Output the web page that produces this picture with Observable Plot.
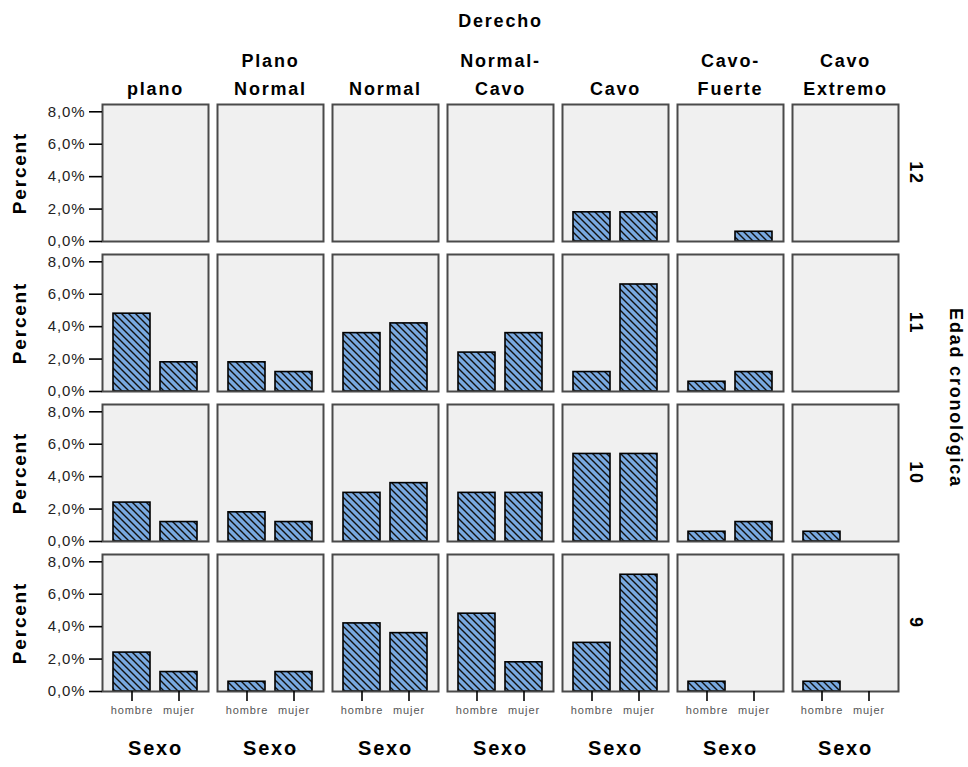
<!DOCTYPE html>
<html>
<head>
<meta charset="utf-8">
<script src="https://cdn.jsdelivr.net/npm/d3@7"></script>
<script src="https://cdn.jsdelivr.net/npm/@observablehq/plot@0.6"></script>
<style>
  html, body { margin: 0; padding: 0; background: white; }
  svg text { letter-spacing: 0.9px; }
  g[font-weight="bold"] text { letter-spacing: 1.8px; }
</style>
</head>
<body>
<div id="chart"></div>
<script>
const derecho = ["plano", "Plano Normal", "Normal", "Normal-Cavo", "Cavo", "Cavo-Fuerte", "Cavo Extremo"];
const columnLabels = ["plano", "Plano\nNormal", "Normal", "Normal-\nCavo", "Cavo", "Cavo-\nFuerte", "Cavo\nExtremo"];
const edades = [12, 11, 10, 9];
const sexos = ["hombre", "mujer"];
const yTicks = [0, 2, 4, 6, 8];

// percent values, one entry per Derecho category
const hombre12 = [0, 0, 0, 0, 1.8, 0, 0];
const mujer12  = [0, 0, 0, 0, 1.8, 0.6, 0];
const hombre11 = [4.8, 1.8, 3.6, 2.4, 1.2, 0.6, 0];
const mujer11  = [1.8, 1.2, 4.2, 3.6, 6.6, 1.2, 0];
const hombre10 = [2.4, 1.8, 3.0, 3.0, 5.4, 0.6, 0.6];
const mujer10  = [1.2, 1.2, 3.6, 3.0, 5.4, 1.2, 0];
const hombre9  = [2.4, 0.6, 4.2, 4.8, 3.0, 0.6, 0.6];
const mujer9   = [1.2, 1.2, 3.6, 1.8, 7.2, 0, 0];

const series = {
  12: {hombre: hombre12, mujer: mujer12},
  11: {hombre: hombre11, mujer: mujer11},
  10: {hombre: hombre10, mujer: mujer10},
  9:  {hombre: hombre9,  mujer: mujer9}
};
const data = [];
for (const e of edades) for (const s of sexos) derecho.forEach((d, i) => {
  data.push({edad: e, sexo: s, derecho: d, value: series[e][s][i]});
});

const fmt = d => d.toFixed(1).replace(".", ",") + "%";
const bold = {fontWeight: "bold", fill: "black"};

const chart = Plot.plot({
  width: 968,
  height: 767,
  marginLeft: 101,
  marginRight: 70,
  marginTop: 103,
  marginBottom: 74,
  style: {fontFamily: "'Liberation Sans', Arial, sans-serif", background: "white", color: "black"},
  fx: {domain: derecho, paddingInner: 0.08, paddingOuter: 0},
  fy: {domain: edades, paddingInner: 0.086, paddingOuter: 0, axis: null},
  x: {domain: sexos, padding: 0.22},
  y: {domain: [0, 8.45]},
  marks: [
    Plot.frame({fill: "#f0f0f0", stroke: null}),
    Plot.dot(data, {fx: "derecho", fy: "edad", x: "sexo", y: 0, r: 0}),
    Plot.barY(data, {filter: d => d.value > 0, fx: "derecho", fy: "edad", x: "sexo", y: "value",
      fill: "url(#hatch)", stroke: "black", strokeWidth: 1.6}),
    Plot.frame({stroke: "#4a4a4a", strokeWidth: 2}),
    Plot.axisY({ticks: yTicks, tickFormat: fmt, tickSize: 13, tickPadding: 4, fontSize: 15, label: null, fill: "#222", stroke: "black", strokeWidth: 1.6}),
    Plot.axisX({tickSize: 10, tickPadding: 5, fontSize: 11, label: null, fill: "#555", stroke: "black", strokeWidth: 1.6}),
    Plot.axisFx({anchor: "top", tickSize: 0, tickPadding: 10, fontSize: 18, ...bold,
      tickFormat: d => columnLabels[derecho.indexOf(d)], lineHeight: 1.55,
      label: null}),
    Plot.text(["Derecho"], {facet: "super", frameAnchor: "top", dy: -83, lineAnchor: "middle", fontSize: 18, ...bold}),
    Plot.text(edades, {fy: d => d, fx: () => "Cavo Extremo", text: d => String(d), frameAnchor: "right",
      dx: 17, rotate: 90, textAnchor: "middle", lineAnchor: "middle", fontSize: 18, ...bold}),
    Plot.text(["Edad cronológica"], {facet: "super", frameAnchor: "right", dx: 57, rotate: 90,
      textAnchor: "middle", lineAnchor: "middle", fontSize: 18, ...bold}),
    Plot.text(edades, {fy: d => d, fx: () => "plano", text: () => "Percent", frameAnchor: "left",
      dx: -83, rotate: -90, textAnchor: "middle", lineAnchor: "middle", fontSize: 19, ...bold}),
    Plot.text(derecho, {fx: d => d, fy: () => 9, text: () => "Sexo", frameAnchor: "bottom",
      dy: 57, textAnchor: "middle", lineAnchor: "middle", fontSize: 20, ...bold})
  ]
});

const defs = d3.select(chart).insert("defs", ":first-child");
const pat = defs.append("pattern").attr("id", "hatch").attr("patternUnits", "userSpaceOnUse")
  .attr("width", 7).attr("height", 7);
pat.append("rect").attr("width", 7).attr("height", 7).attr("fill", "#79a9e0");
pat.append("path").attr("d", "M-1,-1 L8,8 M-1,6 L1,8 M6,-1 L8,1")
  .attr("stroke", "#111").attr("stroke-width", 1.4);

document.getElementById("chart").appendChild(chart);
</script>
</body>
</html>
